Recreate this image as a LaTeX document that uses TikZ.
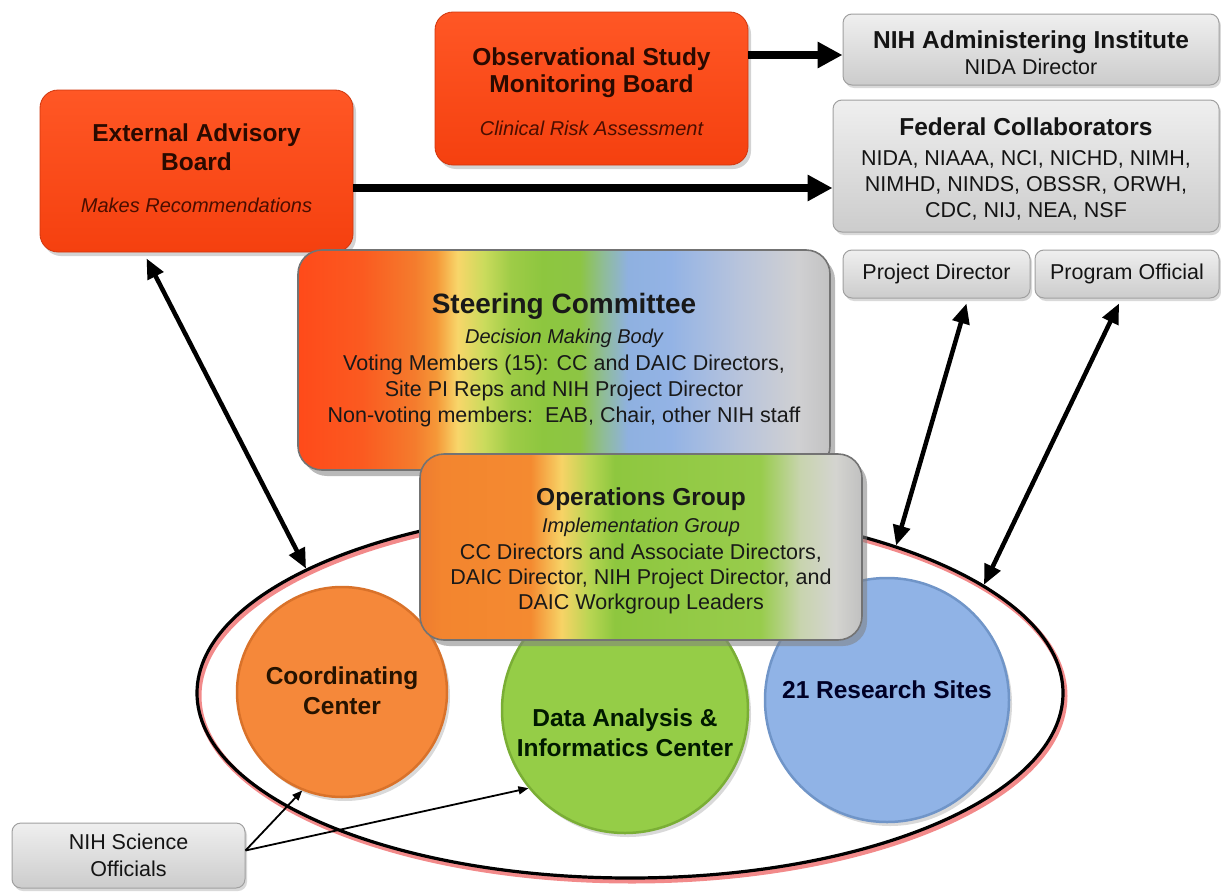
\documentclass[tikz,border=0pt]{standalone}
\usepackage{fontspec}
\setmainfont{Liberation Sans}
\usetikzlibrary{shapes.geometric,arrows.meta,shadows}
\definecolor{redtop}{HTML}{FF5725}
\definecolor{redbot}{HTML}{F5400F}
\definecolor{redtext}{HTML}{2A0A00}
\definecolor{reditalic}{HTML}{4A0E00}
\definecolor{greytop}{HTML}{EFEFEF}
\definecolor{greybot}{HTML}{CCCCCC}
\definecolor{greyline}{HTML}{A0A0A0}
\definecolor{ccorange}{HTML}{F5883A}
\definecolor{ccrim}{HTML}{D9722A}
\definecolor{daicgreen}{HTML}{95CD47}
\definecolor{daicrim}{HTML}{7AAE35}
\definecolor{siteblue}{HTML}{90B3E6}
\definecolor{siterim}{HTML}{7095C8}
\definecolor{glow}{HTML}{F28A8A}
% steering colours
\definecolor{sa}{HTML}{FF4A1A}\definecolor{sb}{HTML}{FB5A20}\definecolor{sc}{HTML}{F47C2D}
\definecolor{sd}{HTML}{F59838}\definecolor{se}{HTML}{F8D66A}\definecolor{sf}{HTML}{CADB5C}
\definecolor{sg}{HTML}{9ECC47}\definecolor{sh}{HTML}{8DC63F}\definecolor{si}{HTML}{8DC544}
\definecolor{sj}{HTML}{8FBC9A}\definecolor{sk}{HTML}{8FB1E0}\definecolor{sl}{HTML}{93B3E5}
\definecolor{sm}{HTML}{B8C4DC}\definecolor{sn}{HTML}{D0D0D2}\definecolor{so}{HTML}{C2C2C2}
% operations colours
\definecolor{oa}{HTML}{EE7C30}\definecolor{ob}{HTML}{F3852F}\definecolor{oc}{HTML}{F48A30}
\definecolor{od}{HTML}{F7D366}\definecolor{oe}{HTML}{B7D552}\definecolor{of}{HTML}{8EC73F}
\definecolor{og}{HTML}{98CC4C}\definecolor{oh}{HTML}{C8D4AE}\definecolor{oi}{HTML}{D4D4D0}
\definecolor{oj}{HTML}{C0C0C0}
\pgfdeclarehorizontalshading{steershade}{100bp}{color(0bp)=(sa); color(25bp)=(sa);
 color(31bp)=(sb); color(36bp)=(sc); color(38bp)=(sd); color(40bp)=(se); color(42.5bp)=(sf);
 color(45bp)=(sg); color(48bp)=(sh); color(51.5bp)=(si); color(53.75bp)=(sj); color(56bp)=(sk);
 color(60bp)=(sl); color(66.5bp)=(sm); color(72bp)=(sn); color(75bp)=(so); color(100bp)=(so)}
\pgfdeclarehorizontalshading{opsshade}{100bp}{color(0bp)=(oa); color(25bp)=(oa);
 color(27.5bp)=(ob); color(37.5bp)=(oc); color(41bp)=(od); color(44.25bp)=(oe); color(47bp)=(of);
 color(63.5bp)=(og); color(68bp)=(oh); color(72bp)=(oi); color(75bp)=(oj); color(100bp)=(oj)}
\newcommand\myhead[1]{\bfseries\fontsize{24.5}{#1}\selectfont}
\newcommand\mybody[1]{\fontsize{21.5}{#1}\selectfont}
\newcommand\myital[1]{\itshape\fontsize{20}{#1}\selectfont}
\newcommand\upstrut[1]{\rule{0pt}{#1}}
\begin{document}
\begin{tikzpicture}[x=1pt,y=-1pt,
  redbox/.style={rounded corners=18pt, top color=redtop, bottom color=redbot,
    draw=redbot!85!black, line width=0.8pt, align=center, text=redtext, inner sep=0pt,
    drop shadow={shadow xshift=3pt, shadow yshift=-4pt, opacity=0.35}},
  greybox/.style={rounded corners=9pt, top color=greytop, bottom color=greybot,
    draw=greyline, line width=1pt, align=center, text=black!92, inner sep=0pt,
    drop shadow={shadow xshift=2pt, shadow yshift=-3pt, opacity=0.3}},
  bigbox/.style={rounded corners=24pt, draw=black!55, line width=1.6pt, align=center,
    text=black!90, inner sep=0pt,
    drop shadow={shadow xshift=5pt, shadow yshift=-6pt, opacity=0.55}},
  ball/.style={circle, inner sep=0pt, line width=2.5pt,
    drop shadow={shadow xshift=3pt, shadow yshift=-4pt, opacity=0.3}},
  ctext/.style={align=center, font=\bfseries\fontsize{24.5}{30}\selectfont},
  thk/.style={line width=7.5pt, -{Triangle[length=25pt,width=25pt]}},
  dbl/.style={line width=4.5pt, {Triangle[length=20pt,width=17pt]}-{Triangle[length=20pt,width=17pt]}},
  thn/.style={line width=1.8pt, -{Triangle[length=10pt,width=8pt]}}
]
\useasboundingbox (0,0) rectangle (1221,894);

% enclosing ellipse
\node[ellipse, draw=glow, line width=5pt, minimum width=866pt, minimum height=370pt, inner sep=0pt] (ellglow) at (632,696) {};
\node[ellipse, draw=black, line width=3.2pt, minimum width=866pt, minimum height=370pt, inner sep=0pt] (ell) at (630,693) {};

% circles
\node[ball, fill=ccorange, draw=ccrim, minimum size=210pt] (cc) at (342,692) {};
\node[ctext, text=black!85!orange] (cct) at (342,691) {Coordinating\\Center};
\node[ball, fill=daicgreen, draw=daicrim, minimum size=246pt] (daic) at (625,710) {};
\node[ctext, text=black!90!green] (daict) at (625,733) {Data Analysis \&\\Informatics Center};
\node[ball, fill=siteblue, draw=siterim, minimum size=244pt] (sites) at (887,700) {};
\node[ctext, text=black!85!blue] (sitest) at (887,690) {21 Research Sites};

% top boxes
\node[redbox, minimum width=313pt, minimum height=153pt, font=\myhead{27}] (osmb) at (591.5,88.5)
  {\upstrut{24pt}Observational Study\\Monitoring Board\\[16pt]\mdseries\myital{27}\color{reditalic}Clinical Risk Assessment};
\node[redbox, minimum width=313pt, minimum height=162pt, font=\myhead{29}] (eab) at (196.5,171)
  {External Advisory\\Board\\[13pt]\mdseries\myital{29}\color{reditalic}Makes Recommendations\rule[-6pt]{0pt}{0pt}};
\node[greybox, minimum width=376pt, minimum height=71pt, font=\mybody{26}] (niha) at (1031,49.5)
  {\myhead{26}\upstrut{24pt}NIH Administering Institute\\NIDA Director};
\node[greybox, minimum width=386pt, minimum height=132pt, font=\mybody{26}] (fed) at (1026,166)
  {\myhead{26}\upstrut{24pt}Federal Collaborators\\[4pt]NIDA, NIAAA, NCI, NICHD, NIMH,\\NIMHD, NINDS, OBSSR, ORWH,\\CDC, NIJ, NEA, NSF};
\node[greybox, minimum width=187pt, minimum height=48pt, font=\mybody{26}] (pd) at (936.5,274) {Project Director};
\node[greybox, minimum width=184pt, minimum height=48pt, font=\mybody{26}] (po) at (1127,274) {Program Official};

% steering committee and operations group
\node[bigbox, shading=steershade, minimum width=532pt, minimum height=220pt, font=\mybody{26}] (sc) at (564,360)
  {\bfseries\fontsize{28}{26}\selectfont Steering Committee\\[4pt]\myital{26}Decision Making Body\\[1pt]Voting Members (15): CC and DAIC Directors,\\Site PI Reps and NIH Project Director\\Non-voting members:\ \ EAB, Chair, other NIH staff};
\node[bigbox, shading=opsshade, minimum width=442pt, minimum height=186pt, font=\mybody{25}] (ops) at (641,547)
  {\myhead{25}\upstrut{25pt}Operations Group\\[2pt]\myital{25}Implementation Group\\[2pt]CC Directors and Associate Directors,\\DAIC Director, NIH Project Director, and\\DAIC Workgroup Leaders};

% NIH science officials
\node[greybox, minimum width=233pt, minimum height=65pt, font=\mybody{27}] (nso) at (128.5,855.5) {NIH Science\\Officials};

% connectors
\draw[thk] ([yshift=33.5pt]osmb.east) -- ([yshift=-5.5pt]niha.west);
\draw[thk] ([yshift=-17pt]eab.east) -- ([yshift=-22pt]fed.west);
\draw[dbl] ([xshift=-50pt,yshift=-6pt]eab.south) -- (ell.159);
\draw[dbl] ([xshift=30pt,yshift=-5pt]pd.south) -- (ell.29);
\draw[dbl] ([xshift=-8pt,yshift=-5pt]po.south) -- (ell.17);
\draw[thn] ([yshift=5pt]nso.east) -- (cc.248);
\draw[thn] ([yshift=5pt]nso.east) -- (daic.219);
\end{tikzpicture}
\end{document}
